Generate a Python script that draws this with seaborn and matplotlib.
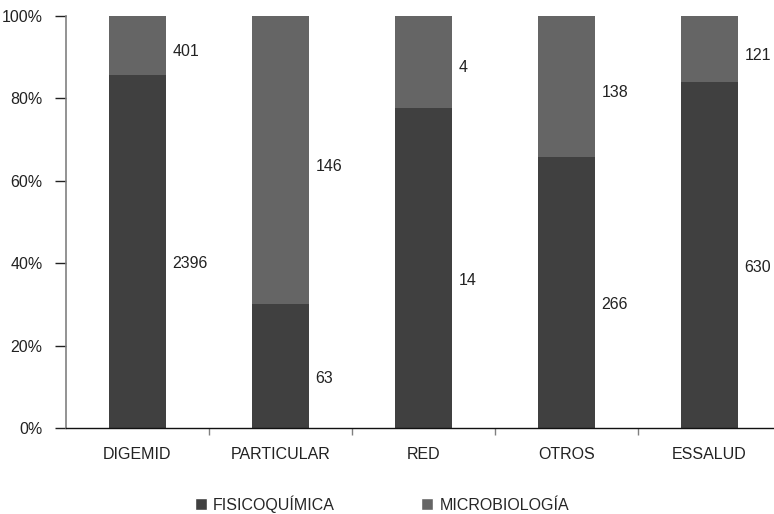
import pandas as pd
import matplotlib.pyplot as plt
import seaborn as sns
from matplotlib.patches import Patch
from matplotlib.ticker import PercentFormatter

categories = ['DIGEMID', 'PARTICULAR', 'RED', 'OTROS', 'ESSALUD']
fisicoquimica = [2396, 63, 14, 266, 630]
microbiologia = [401, 146, 4, 138, 121]

DARK = '#404040'
LIGHT = '#656565'
FS = 11.5


def main():
    sns.set_theme(style='white')
    plt.rcParams['font.family'] = ['Liberation Sans', 'DejaVu Sans']

    df = pd.DataFrame({'Origen': categories,
                       'Fisico': fisicoquimica,
                       'Micro': microbiologia})
    df['Total'] = df['Fisico'] + df['Micro']
    df['PctFisico'] = df['Fisico'] / df['Total'] * 100
    df['PctTotal'] = 100.0

    fig = plt.figure(figsize=(7.74, 5.14), dpi=100)
    ax = fig.add_axes([66 / 774, 1 - 428 / 514, 715 / 774, 412 / 514])

    # 100% stacked: full bar in light grey, fisicoquimica share on top in dark
    sns.barplot(data=df, x='Origen', y='PctTotal', color=LIGHT, width=0.4,
                saturation=1, linewidth=0, ax=ax)
    sns.barplot(data=df, x='Origen', y='PctFisico', color=DARK, width=0.4,
                saturation=1, linewidth=0, ax=ax)

    # value labels right of each segment
    for i, row in df.iterrows():
        xpos = i + 0.245
        ax.text(xpos, row['PctFisico'] / 2 - 3, str(row['Fisico']),
                va='center', ha='left', fontsize=FS, color='#222222')
        ax.text(xpos, row['PctFisico'] + (100 - row['PctFisico']) / 2 - 1.5,
                str(row['Micro']), va='center', ha='left', fontsize=FS,
                color='#222222')

    ax.set_xlim(-0.5, 4.5)
    ax.set_ylim(0, 100)
    ax.set_yticks([0, 20, 40, 60, 80, 100])
    ax.yaxis.set_major_formatter(PercentFormatter(decimals=0))
    ax.set_xlabel('')
    ax.set_ylabel('')

    ax.set_xticks(range(5))
    ax.set_xticklabels(categories)
    ax.set_xticks([0.5, 1.5, 2.5, 3.5, 4.5], minor=True)
    ax.tick_params(axis='x', which='major', length=0, pad=14,
                   labelsize=FS, labelcolor='#222222')
    ax.tick_params(axis='x', which='minor', length=5, width=1,
                   color='#808080', direction='out', bottom=True)
    ax.tick_params(axis='y', length=8, width=1, color='#222222',
                   direction='out', left=True, labelsize=FS,
                   labelcolor='#222222', pad=9)

    for s in ['top', 'right']:
        ax.spines[s].set_visible(False)
    ax.spines['left'].set_color('#808080')
    ax.spines['left'].set_linewidth(1.2)
    ax.spines['bottom'].set_color('#111111')
    ax.spines['bottom'].set_linewidth(1.0)

    handles = [Patch(facecolor=DARK, label='FISICOQUÍMICA'),
               Patch(facecolor=LIGHT, label='MICROBIOLOGÍA')]
    fig.legend(handles=handles, loc='center', bbox_to_anchor=(382 / 774, 1 - 504 / 514),
               ncol=2, frameon=False, fontsize=FS, handlelength=0.75,
               handleheight=0.75, handletextpad=0.4, columnspacing=5.4,
               borderpad=0)

    fig.savefig('out.png', dpi=100)
    plt.close(fig)


if __name__ == '__main__':
    main()
